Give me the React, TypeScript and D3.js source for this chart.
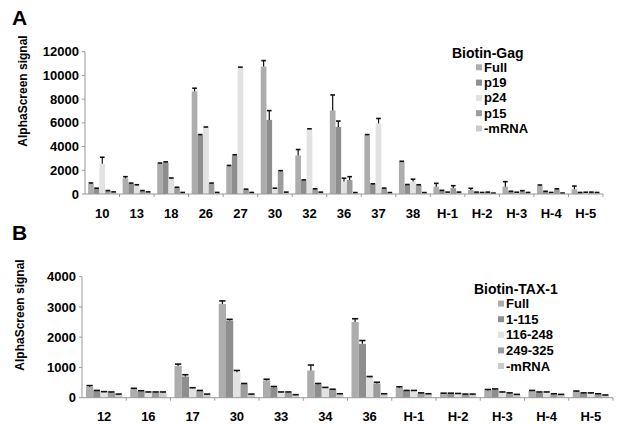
import React from "react";
import * as d3 from "d3";

// ---- panel A data (Biotin-Gag) ----
const categoriesA = ["10", "13", "18", "26", "27", "30", "32", "36", "37", "38", "H-1", "H-2", "H-3", "H-4", "H-5"];
const seriesA = ["Full", "p19", "p24", "p15", "-mRNA"];
const fullA = [850, 1320, 2550, 8650, 2350, 10750, 3250, 7050, 4950, 2700, 620, 340, 620, 680, 400];
const fullErrA = [80, 140, 60, 270, 60, 500, 500, 1300, 60, 60, 280, 140, 420, 80, 270];
const p19A = [450, 880, 2650, 4950, 3250, 6250, 1150, 5650, 820, 760, 280, 140, 200, 200, 110];
const p19ErrA = [40, 40, 60, 60, 60, 780, 40, 500, 40, 40, 30, 20, 30, 30, 20];
const p24A = [2550, 720, 1300, 5600, 10650, 450, 5450, 1050, 5950, 1050, 140, 110, 130, 110, 130];
const p24ErrA = [550, 60, 50, 50, 50, 40, 50, 280, 420, 200, 20, 20, 20, 20, 20];
const p15A = [260, 260, 540, 880, 380, 1920, 400, 1180, 470, 740, 500, 140, 220, 390, 140];
const p15ErrA = [30, 30, 30, 40, 30, 50, 40, 280, 30, 40, 200, 20, 60, 50, 20];
const mrnaA = [160, 160, 110, 110, 110, 140, 140, 100, 100, 100, 140, 60, 110, 60, 110];
const mrnaErrA = [20, 20, 20, 20, 20, 20, 20, 20, 20, 20, 20, 20, 20, 20, 20];
const ticksA = [0, 2000, 4000, 6000, 8000, 10000, 12000];

// ---- panel B data (Biotin-TAX-1) ----
const categoriesB = ["12", "16", "17", "30", "33", "34", "36", "H-1", "H-2", "H-3", "H-4", "H-5"];
const seriesB = ["Full", "1-115", "116-248", "249-325", "-mRNA"];
const fullB = [360, 280, 1050, 3100, 570, 900, 2500, 330, 130, 240, 220, 200];
const fullErrB = [40, 30, 60, 100, 40, 180, 110, 30, 20, 30, 20, 20];
const b115 = [220, 210, 700, 2550, 340, 440, 1780, 220, 130, 270, 170, 140];
const b115Err = [20, 20, 60, 40, 30, 30, 110, 20, 20, 20, 20, 20];
const b116 = [180, 170, 310, 840, 170, 320, 680, 220, 120, 170, 170, 140];
const b116Err = [20, 20, 20, 60, 20, 20, 20, 20, 20, 20, 20, 20];
const b249 = [170, 170, 220, 450, 170, 260, 470, 140, 100, 140, 110, 110];
const b249Err = [20, 20, 20, 20, 20, 20, 40, 20, 20, 20, 20, 20];
const bmrna = [100, 170, 100, 100, 80, 110, 110, 110, 100, 90, 90, 70];
const bmrnaErr = [20, 20, 20, 20, 20, 20, 20, 20, 20, 20, 20, 20];
const ticksB = [0, 1000, 2000, 3000, 4000];

const colors = ["#adadad", "#8e8e8e", "#e2e2e2", "#9c9c9c", "#cbcbcb"];
const font = "'Liberation Sans', Arial, sans-serif";

type PanelProps = {
  letter: string;
  letterY: number;
  categories: string[];
  series: string[];
  values: number[][];
  errors: number[][];
  ticks: number[];
  x0: number;
  x1: number;
  yTop: number;
  yZero: number;
  titleX: number;
  titleMidY: number;
  legendTitle: string;
  legendX: number;
  legendY: number;
  legendStep: number;
};

const Panel = (p: PanelProps) => {
  const maxV = p.ticks[p.ticks.length - 1];
  const y = d3.scaleLinear().domain([0, maxV]).range([p.yZero, p.yTop]);
  const xCat = d3
    .scaleBand()
    .domain(p.categories)
    .range([p.x0, p.x1])
    .paddingInner(0.18)
    .paddingOuter(0.09);
  const xSer = d3.scaleBand().domain(p.series).range([0, xCat.bandwidth()]);
  const step = (p.x1 - p.x0) / p.categories.length;

  return (
    <g>
      <text x={12} y={p.letterY} fontSize={21} fontWeight="bold" fontFamily={font}>
        {p.letter}
      </text>
      <text
        transform={`translate(${p.titleX},${p.titleMidY}) rotate(-90)`}
        textAnchor="middle"
        fontSize={12}
        fontWeight="bold"
        fontFamily={font}
      >
        AlphaScreen signal
      </text>

      {/* y axis */}
      <line x1={p.x0} x2={p.x0} y1={p.yTop} y2={p.yZero} stroke="#999" />
      {p.ticks.map((t) => (
        <g key={t}>
          <line x1={p.x0 - 3} x2={p.x0} y1={y(t)} y2={y(t)} stroke="#999" />
          <text
            x={p.x0 - 6}
            y={y(t)}
            dy="0.35em"
            textAnchor="end"
            fontSize={13}
            fontWeight="bold"
            fontFamily={font}
          >
            {t}
          </text>
        </g>
      ))}

      {/* bars */}
      {p.categories.map((c, i) => (
        <g key={c} transform={`translate(${xCat(c)},0)`}>
          {p.series.map((s, j) => {
            const v = p.values[j][i];
            const e = p.errors[j][i];
            const bx = xSer(s) as number;
            const bw = xSer.bandwidth();
            return (
              <g key={s}>
                <rect x={bx} y={y(v)} width={bw} height={p.yZero - y(v)} fill={colors[j]} />
                <line x1={bx + bw / 2} x2={bx + bw / 2} y1={y(v)} y2={y(v + e)} stroke="#111" strokeWidth={1.2} />
                <line x1={bx + 0.5} x2={bx + bw - 0.5} y1={y(v + e)} y2={y(v + e)} stroke="#111" strokeWidth={1.6} />
              </g>
            );
          })}
        </g>
      ))}

      {/* x axis */}
      <line x1={p.x0} x2={p.x1} y1={p.yZero} y2={p.yZero} stroke="#999" />
      {p.categories.map((c, i) => (
        <g key={c}>
          <line
            x1={p.x0 + step * (i + 1)}
            x2={p.x0 + step * (i + 1)}
            y1={p.yZero}
            y2={p.yZero + 3}
            stroke="#999"
          />
          <text
            x={(xCat(c) as number) + xCat.bandwidth() / 2}
            y={p.yZero + 19}
            dy="0.35em"
            textAnchor="middle"
            fontSize={13}
            fontWeight="bold"
            fontFamily={font}
          >
            {c}
          </text>
        </g>
      ))}

      {/* legend */}
      <text x={p.legendX} y={p.legendY} dy="0.35em" fontSize={14} fontWeight="bold" fontFamily={font}>
        {p.legendTitle}
      </text>
      {p.series.map((s, j) => (
        <g key={s} transform={`translate(${p.legendX + 24},${p.legendY + p.legendStep * (j + 1) - 1})`}>
          <rect x={0} y={-3} width={6} height={6} fill={colors[j]} />
          <text x={8} y={0} dy="0.35em" fontSize={13} fontWeight="bold" fontFamily={font}>
            {s}
          </text>
        </g>
      ))}
    </g>
  );
};

export default function App() {
  return (
    <svg
      width={619}
      height={424}
      style={{ position: "absolute", left: 0, top: 0, background: "#fff" }}
    >
      <Panel
        letter="A"
        letterY={25}
        categories={categoriesA}
        series={seriesA}
        values={[fullA, p19A, p24A, p15A, mrnaA]}
        errors={[fullErrA, p19ErrA, p24ErrA, p15ErrA, mrnaErrA]}
        ticks={ticksA}
        x0={85}
        x1={603}
        yTop={51.7}
        yZero={194}
        titleX={27}
        titleMidY={91}
        legendTitle="Biotin-Gag"
        legendX={452}
        legendY={53}
        legendStep={15.3}
      />
      <Panel
        letter="B"
        letterY={240}
        categories={categoriesB}
        series={seriesB}
        values={[fullB, b115, b116, b249, bmrna]}
        errors={[fullErrB, b115Err, b116Err, b249Err, bmrnaErr]}
        ticks={ticksB}
        x0={82}
        x1={613}
        yTop={276.7}
        yZero={397.7}
        titleX={24}
        titleMidY={315}
        legendTitle="Biotin-TAX-1"
        legendX={474}
        legendY={289}
        legendStep={15.6}
      />
    </svg>
  );
}
